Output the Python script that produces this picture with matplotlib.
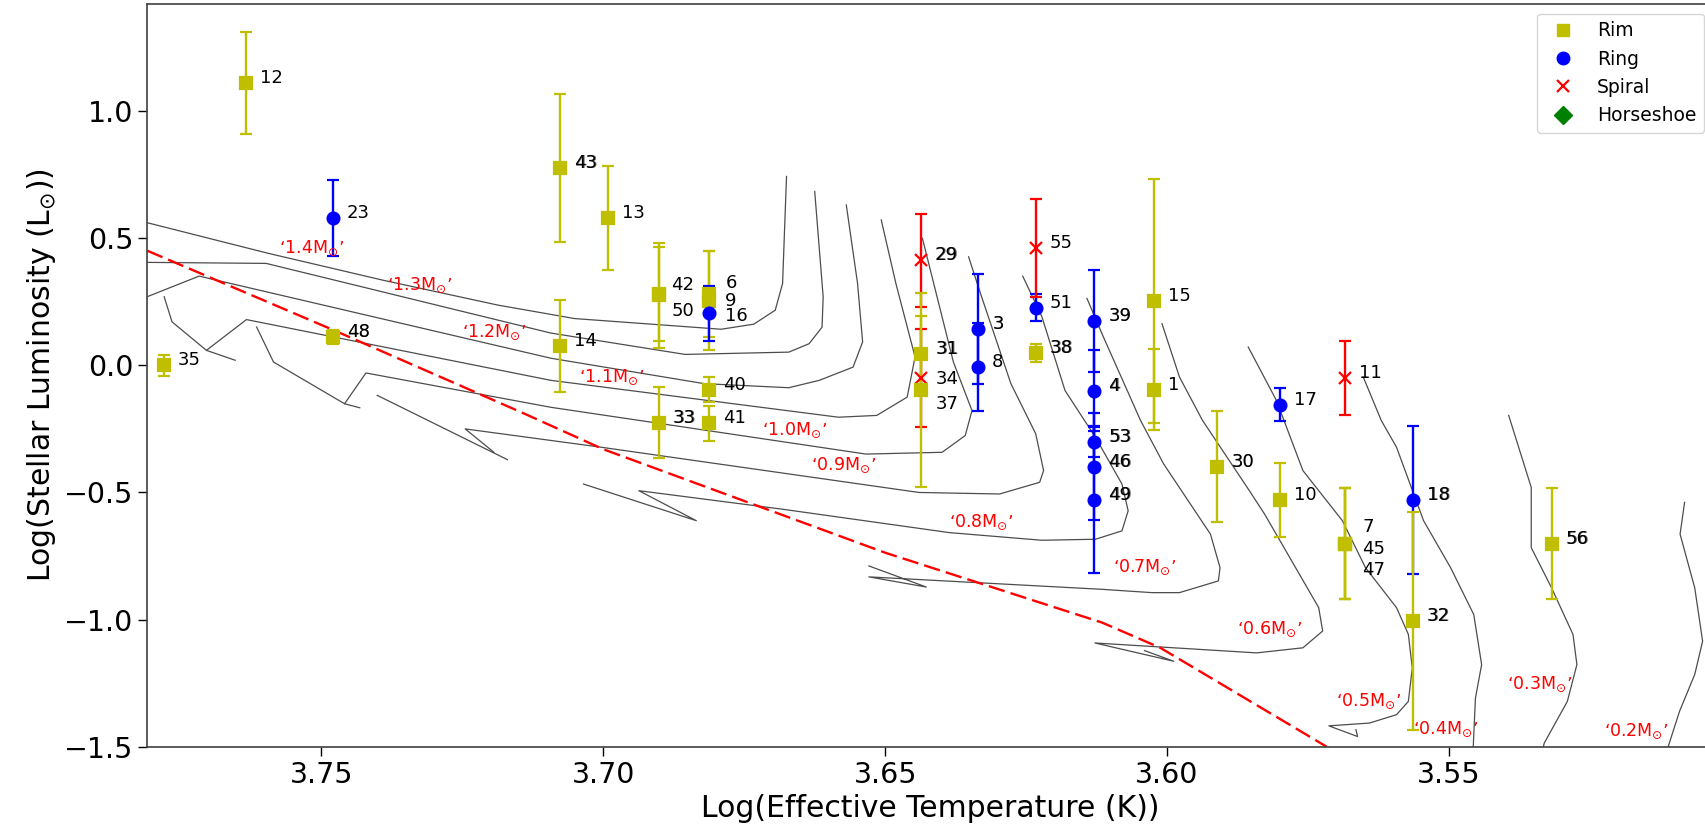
import numpy as np
import matplotlib.pyplot as plt
from matplotlib.lines import Line2D

# --- disc targets: id, log Teff, log L, error on log L, morphology ---
ids = [1, 3, 4, 6, 7, 8, 9, 10, 11, 12, 13, 14, 15, 16, 17, 18, 23, 29, 30, 31,
       32, 33, 34, 35, 37, 38, 39, 40, 41, 42, 43, 45, 46, 47, 48, 49, 50, 51, 53, 55, 56]
log_teff = [3.6023, 3.6335, 3.6129, 3.6812, 3.5684, 3.6335, 3.6812, 3.5800, 3.5684, 3.7634,
            3.6991, 3.7076, 3.6023, 3.6812, 3.5800, 3.5564, 3.7480, 3.6437, 3.5911, 3.6437,
            3.5564, 3.6902, 3.6437, 3.7780, 3.6437, 3.6233, 3.6129, 3.6812, 3.6812, 3.6902,
            3.7076, 3.5684, 3.6129, 3.5684, 3.7480, 3.6129, 3.6902, 3.6233, 3.6129, 3.6233, 3.5318]
log_lum = [-0.096, 0.143, -0.099, 0.280, -0.701, -0.005, 0.254, -0.529, -0.050, 1.111,
           0.579, 0.076, 0.252, 0.204, -0.155, -0.529, 0.579, 0.413, -0.398, 0.043,
           -1.006, -0.226, -0.050, 0.000, -0.097, 0.050, 0.175, -0.096, -0.228, 0.276,
           0.776, -0.701, -0.398, -0.701, 0.112, -0.528, 0.281, 0.227, -0.302, 0.460, -0.701]
log_lum_err = [0.16, 0.216, 0.16, 0.17, 0.217, 0.173, 0.195, 0.146, 0.145, 0.20,
               0.205, 0.18, 0.48, 0.108, 0.064, 0.29, 0.15, 0.183, 0.22, 0.15,
               0.43, 0.14, 0.193, 0.04, 0.38, 0.035, 0.20, 0.05, 0.07, 0.206,
               0.29, 0.217, 0.21, 0.217, 0.027, 0.29, 0.186, 0.052, 0.06, 0.193, 0.217]
kind = ['rim', 'ring', 'ring', 'rim', 'rim', 'ring', 'rim', 'rim', 'spiral', 'rim',
        'rim', 'rim', 'rim', 'ring', 'ring', 'ring', 'ring', 'spiral', 'rim', 'rim',
        'rim', 'rim', 'spiral', 'rim', 'rim', 'rim', 'ring', 'rim', 'rim', 'rim',
        'rim', 'rim', 'ring', 'rim', 'rim', 'ring', 'rim', 'ring', 'ring', 'spiral', 'rim']
# ids whose label is printed twice in the source (looks bolder)
doubled_ids = [43, 48, 29, 3, 31, 38, 39, 4, 46, 49, 53, 33, 30, 18, 32, 56]

# --- evolutionary tracks (log Teff, log L) ---
track_14 = [(3.7809, 0.561), (3.7595, 0.441), (3.7391, 0.335), (3.7187, 0.237), (3.7051, 0.184),
            (3.6791, 0.142), (3.6733, 0.162), (3.6695, 0.217), (3.6682, 0.322), (3.6675, 0.743)]
track_13 = [(3.7809, 0.405), (3.7598, 0.401), (3.7093, 0.127), (3.6855, 0.043), (3.6671, 0.052),
            (3.6635, 0.085), (3.6612, 0.150), (3.6610, 0.269), (3.6625, 0.684)]
track_12 = [(3.7809, 0.270), (3.7717, 0.351), (3.7093, 0.028), (3.6821, -0.072), (3.6671, -0.088),
            (3.6617, -0.059), (3.6557, -0.007), (3.6540, 0.092), (3.6549, 0.322), (3.6569, 0.631)]
track_11 = [(3.7653, 0.020), (3.7704, 0.059), (3.7633, 0.180), (3.7093, -0.059), (3.6583, -0.204),
            (3.6515, -0.197), (3.6461, -0.125), (3.6447, 0.033), (3.6481, 0.322), (3.6507, 0.572)]
track_10 = [(3.7432, -0.167), (3.7459, -0.151), (3.7421, -0.030), (3.7093, -0.165), (3.6534, -0.349),
            (3.6399, -0.342), (3.6358, -0.276), (3.6346, -0.178), (3.6379, 0.013), (3.6434, 0.500)]
track_09 = [(3.7194, -0.342), (3.7245, -0.250), (3.7004, -0.322), (3.6440, -0.500), (3.6297, -0.506),
            (3.6226, -0.460), (3.6219, -0.414), (3.6233, -0.269), (3.6277, -0.072), (3.6331, 0.283),
            (3.6352, 0.427)]
track_08 = [(3.7035, -0.467), (3.6835, -0.611), (3.6937, -0.493), (3.6685, -0.565), (3.6386, -0.658),
            (3.6222, -0.688), (3.6127, -0.684), (3.6080, -0.651), (3.6069, -0.572), (3.6080, -0.467),
            (3.6127, -0.283), (3.6181, -0.099), (3.6222, 0.191), (3.6256, 0.351)]
track_07 = [(3.6529, -0.789), (3.6427, -0.872), (3.6529, -0.832), (3.6115, -0.881), (3.6027, -0.894),
            (3.5978, -0.894), (3.5909, -0.848), (3.5906, -0.796), (3.5923, -0.664), (3.6006, -0.388),
            (3.6047, -0.217), (3.6113, 0.112), (3.6142, 0.263)]
track_06 = [(3.6040, -1.122), (3.5988, -1.164), (3.6128, -1.092), (3.5841, -1.131), (3.5759, -1.111),
            (3.5724, -1.045), (3.5731, -0.953), (3.5827, -0.585), (3.5854, -0.493), (3.5937, -0.217),
            (3.5978, -0.046), (3.6009, 0.164)]
track_05 = [(3.5665, -1.433), (3.5662, -1.460), (3.5713, -1.418), (3.5641, -1.407), (3.5593, -1.374),
            (3.5572, -1.322), (3.5565, -1.190), (3.5572, -1.058), (3.5593, -0.953), (3.5648, -0.796),
            (3.5689, -0.611), (3.5759, -0.414), (3.5806, -0.138), (3.5856, 0.072)]
track_04 = [(3.5457, -1.506), (3.5453, -1.309), (3.5442, -1.177), (3.5456, -0.980), (3.5497, -0.796),
            (3.5545, -0.611), (3.5593, -0.322), (3.5620, -0.217), (3.5652, -0.046)]
track_03 = [(3.5333, -1.506), (3.5331, -1.486), (3.5290, -1.322), (3.5273, -1.177), (3.5280, -1.058),
            (3.5318, -0.875), (3.5354, -0.717), (3.5354, -0.480), (3.5394, -0.197)]
track_02 = [(3.5112, -1.506), (3.5091, -1.361), (3.5064, -1.216), (3.5050, -1.085), (3.5064, -0.875),
            (3.5090, -0.664), (3.5082, -0.539)]
# main-sequence branches leaving the tracks' ends
branch_11 = [(3.7704, 0.059), (3.7765, 0.171), (3.7779, 0.270)]
branch_10 = [(3.7459, -0.151), (3.7585, 0.013), (3.7615, 0.151)]
branch_09 = [(3.7170, -0.371), (3.7401, -0.118)]
tracks = [track_14, track_13, track_12, track_11, track_10, track_09, track_08, track_07,
          track_06, track_05, track_04, track_03, track_02, branch_11, branch_10, branch_09]

# red dashed line
dashed_line = [(3.7809, 0.451), (3.748, 0.14), (3.714, -0.19), (3.70, -0.33), (3.65, -0.737),
               (3.6115, -1.012), (3.6012, -1.111), (3.5717, -1.50)]

# mass labels
mass_names = ['1.4', '1.3', '1.2', '1.1', '1.0', '0.9', '0.8', '0.7', '0.6', '0.5', '0.4', '0.3', '0.2']
mass_t = [3.7518, 3.7326, 3.7194, 3.6985, 3.6661, 3.6573, 3.6330, 3.6040, 3.5819, 3.5643,
          3.5506, 3.5339, 3.5169]
mass_l = [0.460, 0.316, 0.131, -0.046, -0.256, -0.394, -0.618, -0.796, -1.039, -1.322,
          -1.433, -1.256, -1.440]

# label nudges (pixels) for crowded ids
label_shift = {42: (13, 5), 50: (13, -22), 6: (16, 6), 9: (16, -5), 16: (16, -8),
               31: (15, 0), 34: (15, -6), 37: (15, -19),
               7: (17, 12), 45: (17, -10), 47: (17, -31)}

style = {'rim': ('y', 's'), 'ring': ('b', 'o'), 'spiral': ('r', 'x')}

fig = plt.figure(figsize=(17.06, 8.33), dpi=100)
ax = fig.add_axes([0.0863, 0.1036, 0.918, 0.8912])

for trk in tracks:
    t, l = zip(*trk)
    ax.plot(t, l, color='0.3', lw=0.9)

t, l = zip(*dashed_line)
ax.plot(t, l, color='red', lw=1.7, ls=(0, (7, 2.6)))

for name, t, l in zip(mass_names, mass_t, mass_l):
    ax.text(t, l, '‘' + name + r'$\mathrm{M}_{\odot}$' + '’', color='red', fontsize=12.5,
            ha='center', va='center')

for i, t, l, e, k in zip(ids, log_teff, log_lum, log_lum_err, kind):
    c, m = style[k]
    ax.errorbar(t, l, yerr=e, fmt=m, color=c, ms=8.5, mew=1.6, capsize=4.5,
                elinewidth=1.7, capthick=1.2)
    dx, dy = label_shift.get(i, (14, 0))
    ax.annotate(str(i), (t, l), xytext=(dx, dy), textcoords='offset pixels',
                fontsize=13, va='baseline', ha='left')
    if i in doubled_ids:
        ax.annotate(str(i), (t, l), xytext=(dx + 0.8, dy), textcoords='offset pixels',
                    fontsize=13, va='baseline', ha='left', alpha=0.6)

handles = [Line2D([], [], color='y', marker='s', ls='none', ms=8.5, label='Rim'),
           Line2D([], [], color='b', marker='o', ls='none', ms=9, label='Ring'),
           Line2D([], [], color='r', marker='x', ls='none', ms=8.5, mew=1.6, label='Spiral'),
           Line2D([], [], color='g', marker='D', ls='none', ms=9, label='Horseshoe')]
ax.legend(handles=handles, loc='upper right', fontsize=13.5, numpoints=1)

ax.set_xlim(3.7809, 3.5031)
ax.set_ylim(-1.5, 1.42)
ax.set_xticks([3.75, 3.70, 3.65, 3.60, 3.55])
ax.set_yticks([-1.5, -1.0, -0.5, 0.0, 0.5, 1.0])
ax.tick_params(labelsize=20.5, length=6.5, width=1)
for s in ax.spines.values():
    s.set_color('0.25')
    s.set_linewidth(1.2)
ax.set_xlabel('Log(Effective Temperature (K))', fontsize=21.5)
ax.set_ylabel(r'Log(Stellar Luminosity (L$_{\odot}$))', fontsize=21.5)

fig.savefig('out.png', dpi=100)
